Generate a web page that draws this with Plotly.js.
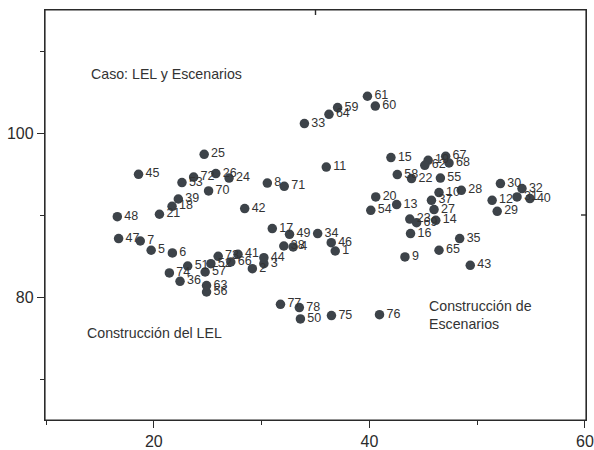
<!DOCTYPE html>
<html>
<head>
<meta charset="utf-8">
<script src="https://cdn.plot.ly/plotly-3.0.1.min.js"></script>
<style>
  html, body { margin: 0; padding: 0; background: #fff; }
  #chart { width: 594px; height: 450px; }
</style>
</head>
<body>
<div id="chart"></div>
<script>
// Point numbers
const pointIds = [
  1, 2, 3, 4, 5, 6, 7, 8, 9, 10,
  11, 12, 13, 14, 15, 16, 17, 18, 19, 20,
  21, 22, 23, 24, 25, 26, 27, 28, 29, 30,
  31, 32, 33, 34, 35, 36, 37, 38, 39, 40,
  41, 42, 43, 44, 45, 46, 47, 48, 49, 50,
  51, 52, 53, 54, 55, 56, 57, 58, 59, 60,
  61, 62, 63, 64, 65, 66, 67, 68, 69, 70,
  71, 72, 73, 74, 75, 76, 77, 78
];
// X values
const xValues = [
  36.83, 29.14, 30.21, 32.93, 19.75, 21.72, 18.74, 30.53, 43.30, 46.46,
  36.00, 51.39, 42.53, 46.16, 42.00, 43.82, 30.99, 21.69, 45.45, 40.59,
  20.52, 43.91, 43.75, 26.98, 24.67, 25.75, 46.00, 48.53, 51.86, 52.16,
  53.70, 54.16, 33.97, 35.20, 48.38, 22.43, 45.76, 32.06, 22.27, 54.90,
  27.81, 28.43, 49.36, 30.21, 18.58, 36.46, 16.73, 16.61, 32.59, 33.60,
  23.14, 25.29, 22.61, 40.13, 46.59, 24.89, 24.76, 42.59, 37.05, 40.55,
  39.82, 45.14, 24.89, 36.25, 46.46, 27.14, 47.08, 47.39, 44.38, 25.08,
  32.10, 23.69, 25.97, 21.44, 36.48, 40.94, 31.75, 33.50
];
// Y values
const yValues = [
  85.61, 83.46, 84.07, 86.10, 85.70, 85.37, 86.83, 93.90, 84.88, 92.73,
  95.85, 91.79, 91.27, 89.35, 97.00, 87.73, 88.34, 91.06, 96.67, 92.20,
  90.09, 94.44, 89.51, 94.51, 97.40, 95.05, 90.66, 93.01, 90.45, 93.83,
  92.20, 93.22, 101.15, 87.73, 87.12, 81.91, 91.79, 86.22, 91.95, 92.00,
  85.21, 90.78, 83.87, 84.80, 94.96, 86.63, 87.12, 89.80, 87.65, 77.32,
  83.78, 84.07, 93.95, 90.57, 94.51, 80.61, 83.05, 94.93, 103.10, 103.29,
  104.48, 96.06, 81.39, 102.28, 85.70, 84.27, 97.16, 96.34, 89.07, 92.93,
  93.50, 94.63, 84.96, 82.93, 77.73, 77.85, 79.11, 78.71
];
// Text notes
const noteTexts = ["Caso: LEL y Escenarios", "Construcción del LEL", "Construcción de<br>Escenarios"];
const noteX = [13.96, 13.59, 45.30];
const noteY = [107.16, 75.66, 77.80];
// Lone inward ticks on the top and right frame edges
const topTickX = 35;
const rightTickY = 90;

const FONT = "Liberation Sans, Arial, sans-serif";
const INK = "#2b2b2b";

const traces = [
  {
    type: "scatter",
    mode: "markers+text",
    x: xValues,
    y: yValues,
    text: pointIds.map(String),
    textposition: "middle right",
    textfont: { family: FONT, size: 12.5, color: "#333333" },
    marker: { size: 9.5, color: "#3d4349", line: { width: 0 } },
    cliponaxis: false,
    hoverinfo: "x+y+text",
    showlegend: false
  }
];

const axisCommon = {
  tickmode: "linear",
  tick0: 0,
  dtick: 20,
  ticks: "outside",
  ticklen: 7,
  tickwidth: 1.4,
  tickcolor: INK,
  showline: true,
  linecolor: INK,
  linewidth: 1.4,
  mirror: true,
  showgrid: false,
  zeroline: false,
  ticklabeloverflow: "allow",
  tickfont: { family: FONT, size: 16, color: INK },
  minor: { tickmode: "linear", tick0: 0, dtick: 10, ticks: "outside", ticklen: 4, tickwidth: 1.4, tickcolor: INK, showgrid: false }
};

const layout = {
  width: 594,
  height: 450,
  margin: { l: 45, r: 8, t: 10, b: 30, pad: 0 },
  paper_bgcolor: "#ffffff",
  plot_bgcolor: "#ffffff",
  font: { family: FONT, color: INK },
  showlegend: false,
  hovermode: false,
  dragmode: false,
  xaxis: Object.assign({}, axisCommon, { range: [9.9, 60.1] }),
  yaxis: Object.assign({}, axisCommon, { range: [65, 115] }),
  shapes: [
    {
      type: "rect", xref: "paper", yref: "paper",
      x0: 0, x1: 1, y0: 0, y1: 1,
      line: { color: INK, width: 1.2 },
      fillcolor: "rgba(0,0,0,0)",
      layer: "above"
    },
    {
      type: "line", xref: "x", yref: "paper",
      x0: topTickX, x1: topTickX,
      ysizemode: "pixel", yanchor: 1, y0: 0, y1: -5,
      line: { color: INK, width: 1.4 }
    },
    {
      type: "line", yref: "y", xref: "paper",
      y0: rightTickY, y1: rightTickY,
      xsizemode: "pixel", xanchor: 1, x0: 0, x1: -5,
      line: { color: INK, width: 1.4 }
    }
  ],
  annotations: noteTexts.map((t, i) => ({
    text: t,
    x: noteX[i],
    y: noteY[i],
    xref: "x",
    yref: "y",
    xanchor: "left",
    yanchor: "middle",
    align: "left",
    showarrow: false,
    font: { family: FONT, size: 14.2, color: "#333333" }
  }))
};

Plotly.newPlot("chart", traces, layout, { displayModeBar: false, responsive: false });
</script>
</body>
</html>
